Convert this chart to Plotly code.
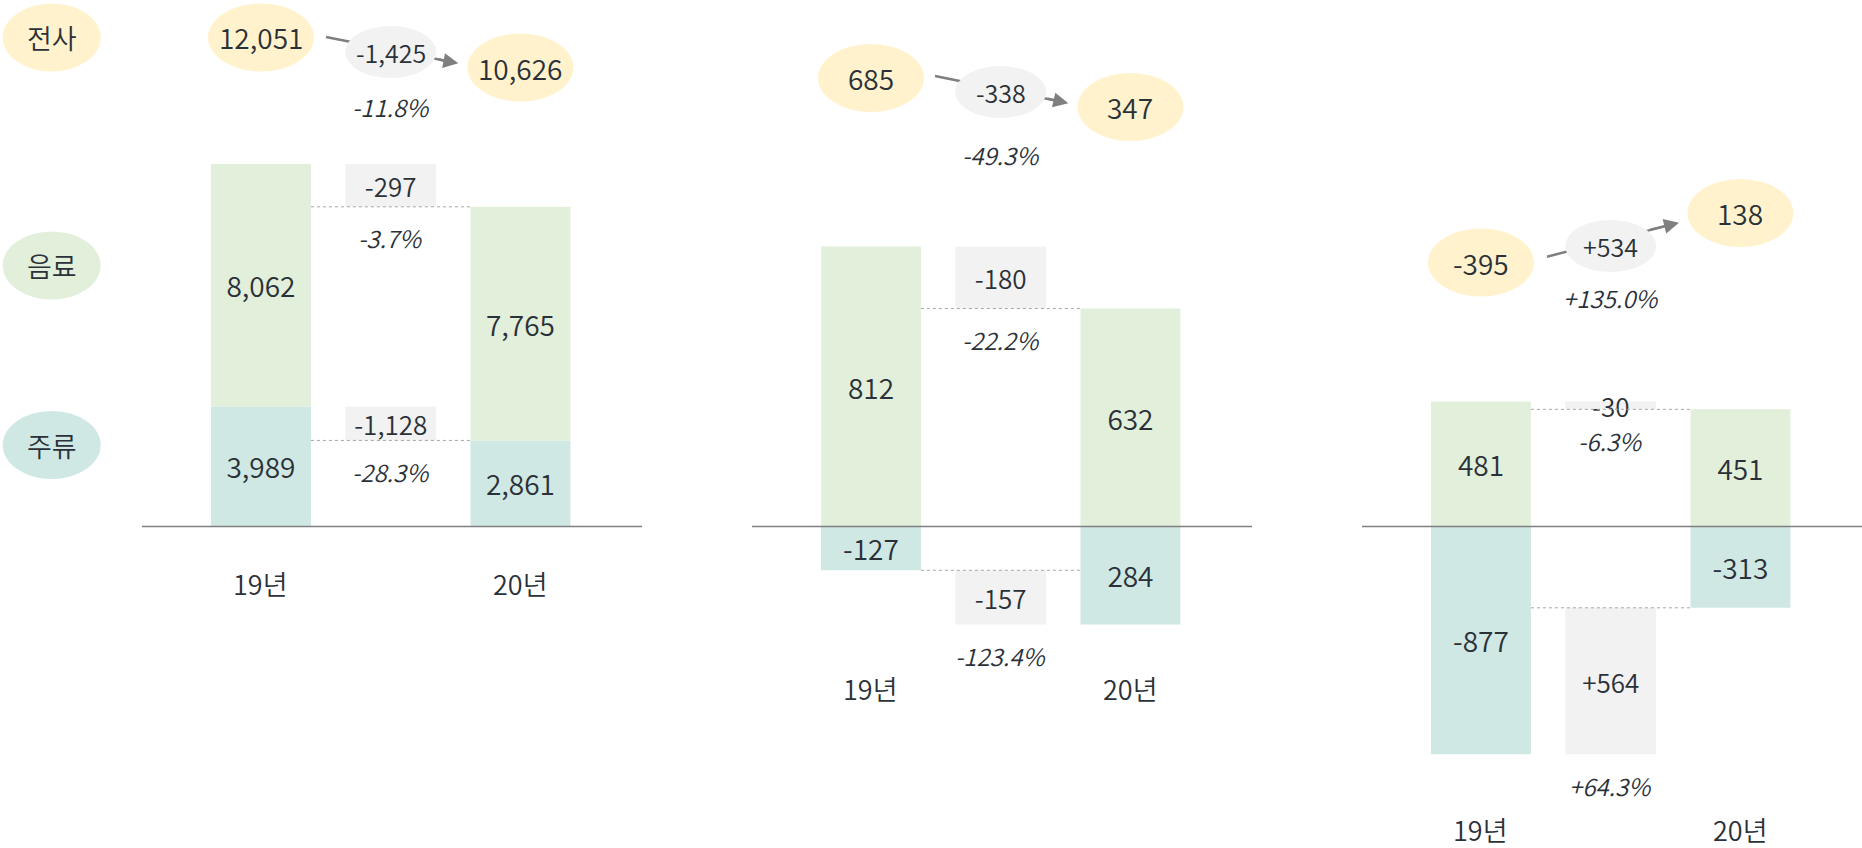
import math
import plotly.graph_objects as go

# ---------------- data ----------------
segments = ["전사", "음료", "주류"]
years = ["19년", "20년"]

total_19 = [12051, 685, -395]
total_20 = [10626, 347, 138]
total_change = [-1425, -338, 534]
total_pct = ["-11.8%", "-49.3%", "+135.0%"]

drink_19 = [8062, 812, 481]
drink_20 = [7765, 632, 451]
drink_pct = ["-3.7%", "-22.2%", "-6.3%"]

liquor_19 = [3989, -127, -877]
liquor_20 = [2861, -284, -313]
liquor_pct = ["-28.3%", "-123.4%", "+64.3%"]
liquor_labels_19 = ["3,989", "-127", "-877"]
liquor_labels_20 = ["2,861", "284", "-313"]

# ---------------- style / layout ----------------
W, H = 1862, 848
BASE_PX = 526.5
PANEL_LEFT = [142, 752, 1362]
PANEL_W = 500
X_RANGE = [-0.917, 2.937]
UNITS_PER_PX = [33.24, 2.9, 3.85]
BAR_W = 0.77
BOX_W = 0.70

GREEN = "#e2efda"
TEAL = "#d0e8e4"
YELLOW = "#fff2cc"
GREY = "#f2f2f2"
TXT = "#2b3138"
FONT = "Noto Sans CJK KR"
WEIGHT = 350

# bubble vertical positions (px from top): first, change, second, pct
BUBBLE_PX = [(37.5, 52, 67.5, 106), (78, 92, 107, 155), (262.5, 246, 213, 297)]
# arrows: start, head base, tip (px)
ARROWS = [((326, 37), (437, 59.3), (458.3, 63.3)),
          ((935, 76), (1046, 98.3), (1068.3, 103.3)),
          ((1547, 256.7), (1649, 230), (1679, 222.7))]
CAT_LABEL_PX = [583, 688, 829]
LEFT_LABEL_PX = [37.5, 265.5, 445]
LEFT_COLORS = [YELLOW, GREEN, TEAL]


def py(p):
    return 1 - p / H


def px(p):
    return p / W


def fnt(size):
    return dict(family=FONT, size=size, color=TXT, weight=WEIGHT)


fig = go.Figure()
shapes = []
annotations = []
layout_axes = {}


def ann(**kw):
    kw.setdefault("xanchor", "center")
    kw.setdefault("yanchor", "middle")
    kw.setdefault("showarrow", False)
    annotations.append(kw)


for i in range(3):
    sfx = "" if i == 0 else str(i + 1)
    xa, ya = "x" + sfx, "y" + sfx
    u = UNITS_PER_PX[i]
    layout_axes["xaxis" + sfx] = dict(
        domain=[px(PANEL_LEFT[i]), px(PANEL_LEFT[i] + PANEL_W)],
        range=X_RANGE, visible=False, anchor=ya, fixedrange=True)
    layout_axes["yaxis" + sfx] = dict(
        domain=[0, 1], range=[-(H - BASE_PX) * u, BASE_PX * u],
        visible=False, anchor=xa, fixedrange=True)

    l19, l20 = liquor_19[i], liquor_20[i]
    d19, d20 = drink_19[i], drink_20[i]
    gb19, gb20 = max(l19, 0), max(l20, 0)

    txt = dict(textposition="inside", insidetextanchor="middle", textangle=0,
               constraintext="none", cliponaxis=False, hoverinfo="skip",
               textfont=fnt(28), showlegend=False)

    # liquor bars
    fig.add_trace(go.Bar(x=[0, 2], y=[l19, l20], base=[0, 0], width=BAR_W,
                         marker=dict(color=TEAL, line=dict(width=0)),
                         text=[liquor_labels_19[i], liquor_labels_20[i]],
                         xaxis=xa, yaxis=ya, **txt))
    # drink bars
    fig.add_trace(go.Bar(x=[0, 2], y=[d19, d20], base=[gb19, gb20], width=BAR_W,
                         marker=dict(color=GREEN, line=dict(width=0)),
                         text=[f"{d19:,}", f"{d20:,}"],
                         xaxis=xa, yaxis=ya, **txt))
    # change boxes
    top19, top20 = gb19 + d19, gb20 + d20
    dd, dl = d20 - d19, l20 - l19
    txt2 = dict(txt)
    txt2["textfont"] = fnt(26)
    fig.add_trace(go.Bar(x=[1, 1], y=[top20 - top19, l20 - l19], base=[top19, l19],
                         width=BOX_W, marker=dict(color=GREY, line=dict(width=0)),
                         text=[f"{dd:+,}", f"{dl:+,}"],
                         xaxis=xa, yaxis=ya, **txt2))

    # baseline
    shapes.append(dict(type="line", xref=xa + " domain", yref=ya, x0=0, x1=1,
                       y0=0, y1=0, line=dict(color="#808080", width=1.5), layer="above"))
    # dotted connectors + pct labels
    for (a, b, pct) in [(top19, top20, drink_pct[i]), (l19, l20, liquor_pct[i])]:
        lvl = a if abs(a) < abs(b) else b
        shapes.append(dict(type="line", xref=xa, yref=ya, x0=BAR_W / 2, x1=2 - BAR_W / 2,
                           y0=lvl, y1=lvl, line=dict(color="#a6a6a6", width=1, dash="dot"),
                           layer="above"))
        ann(xref=xa, yref=ya, x=1, y=min(a, b), yshift=-31,
            text=f"<i>{pct}</i>", font=fnt(24))

    # category labels
    for k, yr in enumerate(years):
        ann(xref=xa, yref="paper", x=2 * k, y=py(CAT_LABEL_PX[i]), text=yr, font=fnt(27))

    # top bubbles with arrow
    ya_px, yg_px, yb_px, yp_px = BUBBLE_PX[i]
    (sx, sy), (hx, hy), (tx, ty) = ARROWS[i]
    seg_len = math.hypot(hx - tx, hy - ty)
    ex, ey = tx + (hx - tx) * 8 / seg_len, ty + (hy - ty) * 8 / seg_len
    shapes.append(dict(type="line", xref="paper", yref="paper", x0=px(sx), y0=py(sy),
                       x1=px(ex), y1=py(ey), line=dict(color="#7f7f7f", width=2.5),
                       layer="above"))
    for xc, ypx, col, w, h, label, fs in [
        (0, ya_px, YELLOW, 106, 68, f"{total_19[i]:,}", 28),
        (2, yb_px, YELLOW, 106, 68, f"{total_20[i]:,}", 28),
        (1, yg_px, GREY, 91, 52, f"{total_change[i]:+,}", 25),
    ]:
        shapes.append(dict(type="circle", xref=xa, yref="paper", xsizemode="pixel",
                           ysizemode="pixel", xanchor=xc, yanchor=py(ypx),
                           x0=-w / 2, x1=w / 2, y0=-h / 2, y1=h / 2,
                           fillcolor=col, line=dict(width=0), layer="above"))
        ann(xref=xa, yref="paper", x=xc, y=py(ypx), text=label, font=fnt(fs))
    annotations.append(dict(xref="paper", yref="paper", x=px(tx), y=py(ty),
                            ax=hx - tx, ay=hy - ty, axref="pixel", ayref="pixel",
                            showarrow=True, arrowhead=2, arrowsize=1.2, arrowwidth=2.5,
                            arrowcolor="#7f7f7f", text=""))
    ann(xref=xa, yref="paper", x=1, y=py(yp_px), text=f"<i>{total_pct[i]}</i>", font=fnt(24))

# left segment bubbles
for seg, ypx, col in zip(segments, LEFT_LABEL_PX, LEFT_COLORS):
    shapes.append(dict(type="circle", xref="paper", yref="paper", xsizemode="pixel",
                       ysizemode="pixel", xanchor=px(51.7), yanchor=py(ypx),
                       x0=-49, x1=49, y0=-34, y1=34, fillcolor=col,
                       line=dict(width=0), layer="above"))
    ann(xref="paper", yref="paper", x=px(51.7), y=py(ypx), text=seg, font=fnt(27))

fig.update_layout(
    width=W, height=H, margin=dict(l=0, r=0, t=0, b=0),
    paper_bgcolor="white", plot_bgcolor="white",
    barmode="overlay", showlegend=False,
    shapes=shapes, annotations=annotations,
    font=dict(family=FONT, color=TXT),
    **layout_axes,
)

fig.write_html("out.html", config={"displayModeBar": False},
               post_script="document.body.style.margin='0';document.body.style.overflow='hidden';")
